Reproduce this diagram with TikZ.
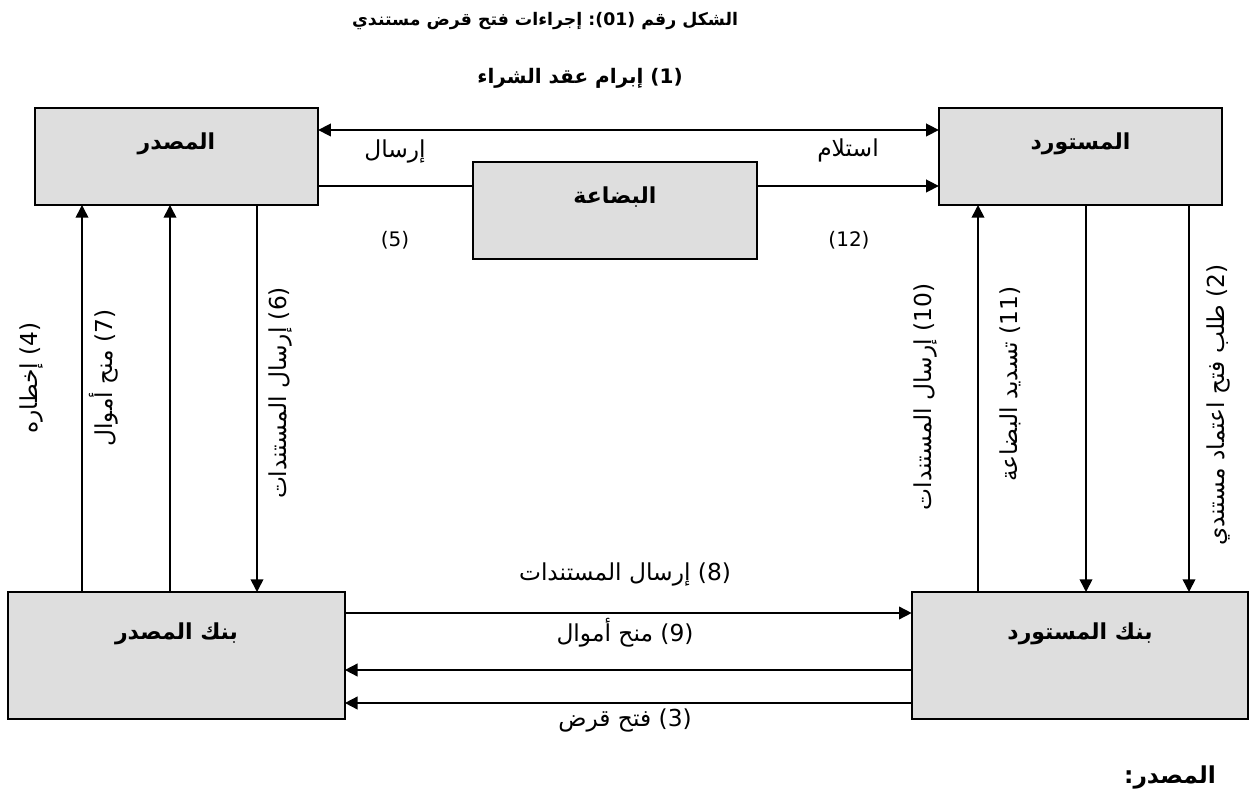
\documentclass[tikz,border=0pt]{standalone}
\usepackage{fontspec}
\usetikzlibrary{arrows.meta}
\TeXXeTstate=1
\newfontfamily\arabicfont[Script=Arabic]{DejaVu Sans}
\definecolor{boxgray}{HTML}{DEDEDE}
\tikzset{
  box/.style={draw=black, line width=1.3pt, fill=boxgray, inner sep=0pt, outer sep=0pt,
    font=\arabicfont\bfseries\fontsize{16.5}{18}\selectfont},
  topbox/.style={box, minimum width=212.5pt, minimum height=72.75pt, text height=9pt, text depth=19.5pt},
  bankbox/.style={box, minimum width=252.5pt, minimum height=95.25pt, text height=9pt, text depth=33pt},
  conn/.style={line width=1.2pt},
  arr/.style={conn, -{Triangle[length=9.5pt,width=9.5pt]}},
  darr/.style={conn, {Triangle[length=9.5pt,width=9.5pt]}-{Triangle[length=9.5pt,width=9.5pt]}},
  lbl/.style={font=\arabicfont\fontsize{17.5}{20}\selectfont, inner sep=1pt},
  numlbl/.style={font=\arabicfont\fontsize{15}{17}\selectfont, inner sep=1pt},
  ttl/.style={font=\arabicfont\bfseries\fontsize{13}{15}\selectfont, inner sep=1pt},
  sub/.style={font=\arabicfont\bfseries\fontsize{15}{17}\selectfont, inner sep=1pt},
  src/.style={font=\arabicfont\bfseries\fontsize{17.5}{20}\selectfont, inner sep=1pt},
}
\begin{document}
\begin{tikzpicture}[x=0.75pt,y=-0.75pt]
\useasboundingbox (0,0) rectangle (1256,812);

% boxes
\node[topbox] (exp) at (176.5,156.5) {المصدر};
\node[topbox] (imp) at (1080.5,156.5) {المستورد};
\node[topbox] (goods) at (615,210.5) {البضاعة};
\node[bankbox] (bankE) at (176.5,655.5) {\beginR بنك المصدر\endR};
\node[bankbox] (bankI) at (1080,655.5) {\beginR بنك المستورد\endR};

% top connectors
\draw[darr] (exp.east |- 0,130) -- (imp.west |- 0,130);
\draw[conn] (exp.east |- 0,186) -- (goods.west |- 0,186);
\draw[arr] (goods.east |- 0,186) -- (imp.west |- 0,186);

% left verticals
\draw[arr] (bankE.north -| 82,0) -- (exp.south -| 82,0);
\draw[arr] (bankE.north -| 170,0) -- (exp.south -| 170,0);
\draw[arr] (exp.south -| 257,0) -- (bankE.north -| 257,0);

% right verticals
\draw[arr] (bankI.north -| 978,0) -- (imp.south -| 978,0);
\draw[arr] (imp.south -| 1086,0) -- (bankI.north -| 1086,0);
\draw[arr] (imp.south -| 1189,0) -- (bankI.north -| 1189,0);

% bottom connectors
\draw[arr] (bankE.east |- 0,613) -- (bankI.west |- 0,613);
\draw[arr] (bankI.west |- 0,670) -- (bankE.east |- 0,670);
\draw[arr] (bankI.west |- 0,703) -- (bankE.east |- 0,703);

% texts
\node[ttl] (title) at (545,21) {\beginR الشكل رقم \beginL(01)\endL\hbox{:} إجراءات فتح قرض مستندي\endR};
\node[sub] (step1) at (580,78) {\beginR\beginL(1)\endL{} إبرام عقد الشراء\endR};
\node[lbl] (send) at (395,151) {إرسال};
\node[lbl] (recv) at (848,150) {استلام};
\node[numlbl] (n5) at (395,240) {(5)};
\node[numlbl] (n12) at (849,240) {(12)};

\node[lbl, rotate=90] (l4) at (31,378) {\beginR\beginL(4)\endL{} إخطاره\endR};
\node[lbl, rotate=90] (l7) at (104,378) {\beginR\beginL(7)\endL{} منح أموال\endR};
\node[lbl, rotate=90] (l6) at (280,393) {\beginR\beginL(6)\endL{} إرسال المستندات\endR};
\node[lbl, rotate=90] (l10) at (925,397) {\beginR\beginL(10)\endL{} إرسال المستندات\endR};
\node[lbl, rotate=90] (l11) at (1010,384) {\beginR\beginL(11)\endL{} تسديد البضاعة\endR};
\node[lbl, rotate=90] (l2) at (1218,405) {\beginR\beginL(2)\endL{} طلب فتح اعتماد مستندي\endR};

\node[lbl] (l8) at (625,574) {\beginR\beginL(8)\endL{} إرسال المستندات\endR};
\node[lbl] (l9) at (625,633) {\beginR\beginL(9)\endL{} منح أموال\endR};
\node[lbl] (l3) at (625,720) {\beginR\beginL(3)\endL{} فتح قرض\endR};

\node[src] (source) at (1170,777) {\beginR المصدر\hbox{:}\endR};
\end{tikzpicture}
\end{document}
